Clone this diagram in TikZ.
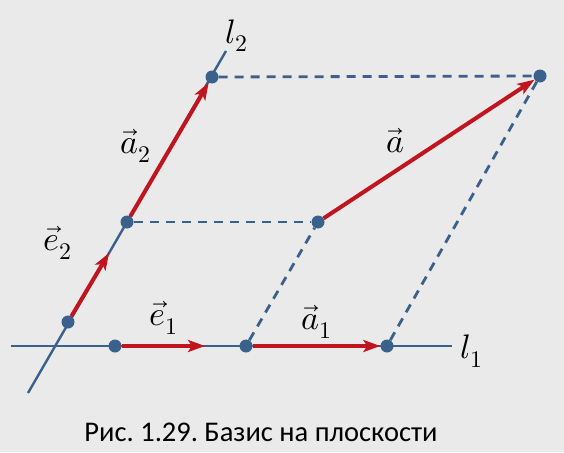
\documentclass[tikz,border=0pt]{standalone}
\usepackage{fontspec}
\usepackage{unicode-math}
\setmathfont{Latin Modern Math}
\setsansfont{Carlito}
\usetikzlibrary{arrows.meta}
\definecolor{bg}{RGB}{234,234,234}
\definecolor{lblue}{RGB}{58,96,140}
\definecolor{vred}{RGB}{192,20,30}
\frenchspacing
\begin{document}
\begin{tikzpicture}[x=1pt,y=-1pt,
 axis/.style={lblue, line width=2.4pt},
 dashline/.style={lblue, line width=2.8pt, dash pattern=on 9pt off 7pt},
 vec/.style={vred, line width=4pt, -{Stealth[length=17pt,width=12pt,inset=4pt]}},
 dot/.style={circle, fill=lblue, inner sep=0pt, minimum size=13pt},
 lbl/.style={font=\fontsize{34}{36}\selectfont, inner sep=0pt}]
\fill[bg] (0,0) rectangle (564,452);
\useasboundingbox (0,0) rectangle (564,452);
% lines
\coordinate (l1s) at (11,346);
\coordinate (l1e) at (452,346);
\coordinate (l2s) at (28,393);
\coordinate (l2e) at (226,51);
\coordinate (E2e) at (109,253);
\coordinate (E1e) at (205,346);
\draw[axis] (l1s) -- (l1e);
\draw[axis] (l2s) -- (l2e);
% points
\node[dot] (E2s) at (68,322) {};
\node[dot] (A2s) at (127,222) {};
\node[dot] (A2e) at (212,77) {};
\node[dot] (E1s) at (115,346) {};
\node[dot] (A1s) at (246,346) {};
\node[dot] (A1e) at (387,346) {};
\node[dot] (As) at (318,222) {};
\node[dot] (Ae) at (540,76) {};
% dashed
\draw[dashline] (A2s) -- (As);
\draw[dashline] (A2e) -- (Ae);
\draw[dashline] (A1s) -- (As);
\draw[dashline] (A1e) -- (Ae);
% vectors
\draw[vec] (E2s) -- (E2e);
\draw[vec] (E1s) -- (E1e);
\draw[vec] (A2s) -- (A2e);
\draw[vec] (A1s) -- (A1e);
\draw[vec] (As) -- (Ae);
% labels
\node[lbl] (lab-l2) at (237,36) {$l_2$};
\node[lbl] (lab-l1) at (472,351) {$l_1$};
\node[lbl] (lab-e2) at (58,243) {$\vec{e}_2$};
\node[lbl] (lab-e1) at (164,318) {$\vec{e}_1$};
\node[lbl] (lab-a2) at (136,146) {$\vec{a}_2$};
\node[lbl] (lab-a1) at (317,322) {$\vec{a}_1$};
\node[lbl] (lab-a) at (395,141) {$\vec{a}$};
\node[font=\sffamily\fontsize{28.5}{30}\selectfont] (cap) at (261,432) {Рис. 1.29. Базис на плоскости};
\end{tikzpicture}
\end{document}
